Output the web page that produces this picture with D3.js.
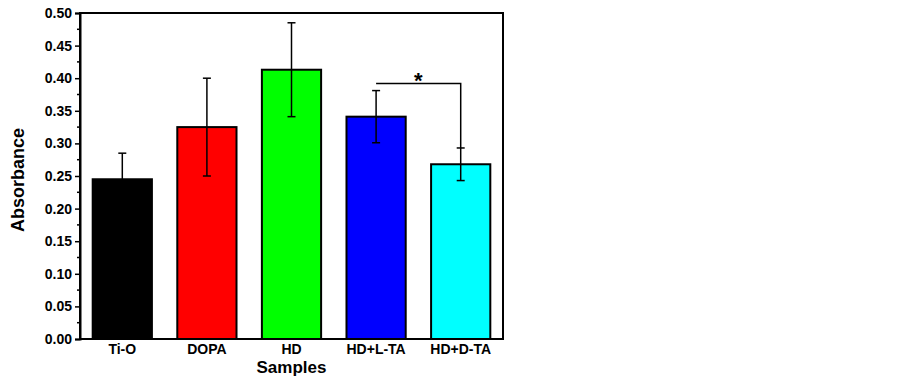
<!DOCTYPE html>
<html><head><meta charset="utf-8">
<script src="https://cdn.jsdelivr.net/npm/d3@7"></script>
<style>body{margin:0;background:#fff}svg{display:block}</style>
</head><body><svg id="c" width="903" height="380"></svg>
<script>
const categories = ["Ti-O","DOPA","HD","HD+L-TA","HD+D-TA"];
const values = [0.245, 0.325, 0.413, 0.341, 0.268];
const errors = [0.040, 0.075, 0.072, 0.040, 0.025];
const colors = ["#000000","#ff0000","#00ff00","#0000ff","#00ffff"];
const yTicks = [0,0.05,0.10,0.15,0.20,0.25,0.30,0.35,0.40,0.45,0.50];
const sigPair = ["HD+L-TA","HD+D-TA"];
const sigLevel = 0.392;

const svg = d3.select("#c");
const m = {l:80, r:400, t:13, b:41};
const W = 903, H = 380;
const x = d3.scaleBand().domain(categories).range([m.l, W - m.r]).paddingInner(0.3).paddingOuter(0.15);
const y = d3.scaleLinear().domain([0,0.5]).range([H - m.b, m.t]);
const font = "'Liberation Sans', Arial, sans-serif";

// bars
svg.selectAll("rect.bar").data(categories).join("rect")
  .attr("x", d => x(d)).attr("width", x.bandwidth())
  .attr("y", (d,i) => y(values[i])).attr("height", (d,i) => y(0) - y(values[i]))
  .attr("fill", (d,i) => colors[i]).attr("stroke", "#000").attr("stroke-width", 2);

// error bars
const cap = 4;
categories.forEach((c,i) => {
  const cx = x(c) + x.bandwidth()/2;
  const g = svg.append("g").attr("stroke","#000").attr("stroke-width",1.5);
  g.append("line").attr("x1",cx).attr("x2",cx).attr("y1",y(values[i]+errors[i])).attr("y2",y(values[i]-errors[i]));
  g.append("line").attr("x1",cx-cap).attr("x2",cx+cap).attr("y1",y(values[i]+errors[i])).attr("y2",y(values[i]+errors[i]));
  g.append("line").attr("x1",cx-cap).attr("x2",cx+cap).attr("y1",y(values[i]-errors[i])).attr("y2",y(values[i]-errors[i]));
});

// significance bracket
{
  const i2 = categories.indexOf(sigPair[1]);
  const x1 = x(sigPair[0]) + x.bandwidth()/2, x2 = x(sigPair[1]) + x.bandwidth()/2;
  svg.append("path").attr("fill","none").attr("stroke","#000").attr("stroke-width",1.5)
    .attr("d", `M${x1},${y(sigLevel)}H${x2}V${y(values[i2]+errors[i2])}`);
  svg.append("text").attr("x",(x1+x2)/2).attr("y",y(sigLevel)+5).attr("text-anchor","middle")
    .attr("font-family",font).attr("font-weight","bold").attr("font-size",22).text("*");
}

// frame
svg.append("rect").attr("x",m.l).attr("y",m.t).attr("width",W-m.r-m.l).attr("height",H-m.b-m.t)
  .attr("fill","none").attr("stroke","#000").attr("stroke-width",2);

// y axis
const yAxis = d3.axisLeft(y).tickValues(yTicks).tickFormat(d3.format(".2f")).tickSize(5).tickPadding(3);
const ga = svg.append("g").attr("transform",`translate(${m.l},0)`).call(yAxis);
ga.select(".domain").attr("stroke-width",2);
ga.selectAll(".tick line").attr("stroke-width",1.5);
ga.selectAll("text").attr("font-family",font).attr("font-weight","bold").attr("font-size",14).attr("fill","#000");
const minor = d3.range(0.025,0.5,0.05);
svg.append("g").selectAll("line").data(minor).join("line")
  .attr("x1",m.l-3).attr("x2",m.l).attr("y1",d=>y(d)).attr("y2",d=>y(d)).attr("stroke","#000").attr("stroke-width",1.5);

// x axis labels
const xAxis = d3.axisBottom(x).tickSize(0).tickPadding(5);
const gx = svg.append("g").attr("transform",`translate(0,${H-m.b})`).call(xAxis);
gx.select(".domain").remove();
gx.selectAll("text").attr("font-family",font).attr("font-weight","bold").attr("font-size",14).attr("fill","#000");

// titles
svg.append("text").attr("x",(m.l+W-m.r)/2).attr("y",372.5).attr("text-anchor","middle")
  .attr("font-family",font).attr("font-weight","bold").attr("font-size",17).text("Samples");
svg.append("text").attr("transform",`translate(24,${(m.t+H-m.b)/2+4}) rotate(-90)`).attr("text-anchor","middle")
  .attr("font-family",font).attr("font-weight","bold").attr("font-size",18).text("Absorbance");
</script></body></html>
